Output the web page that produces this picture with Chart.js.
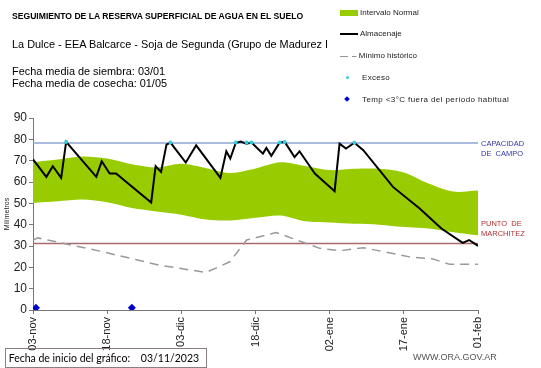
<!DOCTYPE html>
<html>
<head>
<meta charset="utf-8">
<script src="https://cdn.jsdelivr.net/npm/chart.js@4/dist/chart.umd.min.js"></script>
<style>
  body { margin: 0; background: #fff; font-family: "Liberation Sans", Arial, sans-serif; }
  #wrap { position: relative; width: 541px; height: 368px; }
  .t { position: absolute; white-space: nowrap; color: #000; }
  .lg { position: absolute; font-size: 8px; color: #222; white-space: nowrap; }
</style>
</head>
<body>
<div id="wrap">
  <canvas id="reserva"></canvas>

  <div class="t" style="left:12px;top:11px;font-size:8.6px;font-weight:bold;">SEGUIMIENTO DE LA RESERVA SUPERFICIAL DE AGUA EN EL SUELO</div>
  <div class="t" style="left:12px;top:38px;font-size:10.9px;width:317px;overflow:hidden;">La Dulce - EEA Balcarce - Soja de Segunda (Grupo de Madurez II</div>
  <div class="t" style="left:12px;top:65px;font-size:10.9px;line-height:12px;">Fecha media de siembra: 03/01<br>Fecha media de cosecha: 01/05</div>

  <!-- legend -->
  <div style="position:absolute;left:340px;top:10px;width:18px;height:6px;background:#99cc00;"></div>
  <div class="lg" style="left:360px;top:8px;">Intervalo Normal</div>
  <div style="position:absolute;left:340px;top:33px;width:18px;height:2px;background:#000;"></div>
  <div class="lg" style="left:360px;top:29px;">Almacenaje</div>
  <div style="position:absolute;left:340px;top:56px;width:8px;height:1px;background:#999;"></div>
  <div class="lg" style="left:352px;top:51px;">– Mínimo histórico</div>
  <div style="position:absolute;left:346px;top:76px;width:3px;height:3px;border-radius:2px;background:#33ccdd;"></div>
  <div class="lg" style="left:362px;top:73px;letter-spacing:0.3px;">Exceso</div>
  <div style="position:absolute;left:345px;top:97px;width:4px;height:4px;transform:rotate(45deg);background:#0000cc;"></div>
  <div class="lg" style="left:362px;top:95px;letter-spacing:0.4px;">Temp &lt;3°C fuera del período habitual</div>

  <!-- reference line labels -->
  <div class="t" style="left:481px;top:139px;font-size:7.5px;line-height:10px;color:#3333aa;">CAPACIDAD<br>DE&nbsp; CAMPO</div>
  <div class="t" style="left:481px;top:219px;font-size:7.5px;line-height:10px;color:#b03030;">PUNTO&nbsp; DE<br>MARCHITEZ</div>

  <!-- footer -->
  <div class="t" style="left:5px;top:348px;width:200px;height:18px;border:1px solid #8a7f7f;font-family:Lato,sans-serif;font-size:10.5px;line-height:18px;">&nbsp;Fecha de inicio del gráfico:&nbsp;&nbsp;&nbsp; 03/11/2023</div>
  <div class="t" style="left:413px;top:352px;font-size:9px;color:#555;">WWW.ORA.GOV.AR</div>
</div>

<script>
// days counted from 03-nov-2023
const tickDays = [0, 15, 30, 45, 60, 75, 90];
const tickLabels = ["03-nov", "18-nov", "03-dic", "18-dic", "02-ene", "17-ene", "01-feb"];

// intervalo normal (green band)
const bandDays  = [0, 5, 10, 15, 20, 25, 30, 35, 40, 45, 50, 55, 60, 65, 70, 75, 80, 85, 90];
const bandUpper = [69.3, 70.5, 72, 71, 68.3, 66.8, 68.5, 66.5, 64.2, 66.3, 69.2, 67.5, 65.6, 66.2, 66.2, 64.5, 59.3, 55.5, 56];
const bandLower = [50.2, 51, 51.8, 50.5, 47.8, 46.2, 44.7, 42.4, 42, 43.2, 44.3, 41.6, 41, 40.4, 40, 38.9, 38.2, 36.5, 35];

// almacenaje
const almDays = [0, 2.7, 4, 5.7, 6.7, 12.8, 13.9, 15.5, 16.8, 23.9, 24.8, 25.9, 27, 27.8, 30.9, 33, 37.9, 39.1, 39.9, 41, 42, 43.2, 44.2, 46.5, 47.2, 48.2, 49.9, 50.9, 52.9, 53.9, 57, 61, 62, 63.3, 65, 66.8, 72.8, 78.2, 82.6, 86.9, 88.2, 90];
const almVals = [70.6, 62.4, 67.4, 61.9, 78.8, 62.4, 69.7, 64, 64, 50.4, 67.4, 64.7, 77.5, 78.5, 69.1, 77.2, 61.9, 74.4, 71, 78.3, 79, 78, 78.5, 73.3, 76, 72.3, 78.5, 78.8, 71.7, 74.4, 64, 55.7, 78, 75.7, 78.4, 74.9, 57.7, 47.6, 38.2, 31.5, 32.8, 30.1];

// minimo historico
const minDays = [0, 1, 13.5, 25.6, 35, 39.8, 43.2, 49.2, 58, 62, 66.8, 76.2, 80.9, 84.3, 90];
const minVals = [32.8, 33.8, 27.6, 21, 17.6, 22.6, 32.8, 36.3, 28.9, 27.8, 29.2, 24.9, 23.9, 21.4, 21.4];

// exceso points
const excDays = [6.7, 27.8, 41, 43.2, 44.2, 49.9, 50.9, 65];
const excVals = [78.8, 78.5, 78.5, 78.5, 78.5, 78.5, 78.8, 78.4];

// temp < 3C
const tempDays = [0.6, 20];
const tempVals = [1, 1];

const capacidad = 78.3;
const marchitez = 31.2;

const pts = (xs, ys) => xs.map((x, i) => ({ x: x, y: ys[i] }));

new Chart("reserva", {
    type: "line",
    data: {
        datasets: [
            {
                label: "lower",
                data: pts(bandDays, bandLower),
                borderWidth: 0,
                pointRadius: 0,
                tension: 0.3,
                fill: false,
                order: 10
            },
            {
                label: "Intervalo Normal",
                data: pts(bandDays, bandUpper),
                borderWidth: 0,
                pointRadius: 0,
                tension: 0.3,
                backgroundColor: "#99cc00",
                fill: "-1",
                order: 9
            },
            {
                label: "Capacidad",
                data: [{ x: 0, y: capacidad }, { x: 90, y: capacidad }],
                borderColor: "#8ea5d6",
                borderWidth: 1.5,
                pointRadius: 0,
                order: 5
            },
            {
                label: "Marchitez",
                data: [{ x: 0, y: marchitez }, { x: 90, y: marchitez }],
                borderColor: "#a86a6a",
                borderWidth: 1.5,
                pointRadius: 0,
                order: 5
            },
            {
                label: "Mínimo histórico",
                data: pts(minDays, minVals),
                borderColor: "#999999",
                borderWidth: 1.5,
                borderDash: [9, 6],
                pointRadius: 0,
                order: 4
            },
            {
                label: "Almacenaje",
                data: pts(almDays, almVals),
                borderColor: "#000",
                borderWidth: 2,
                pointRadius: 0,
                order: 2
            },
            {
                label: "Exceso",
                data: pts(excDays, excVals),
                showLine: false,
                pointRadius: 2,
                pointBackgroundColor: "#33ccdd",
                pointBorderWidth: 0,
                order: 1
            },
            {
                label: "Temp",
                data: pts(tempDays, tempVals),
                showLine: false,
                pointStyle: "rectRot",
                pointRadius: 4,
                pointBackgroundColor: "#0000cc",
                pointBorderWidth: 0,
                order: 0
            }
        ]
    },
    options: {
        responsive: true,
        maintainAspectRatio: false,
        animation: false,
        layout: { padding: { left: 0, right: 63, top: 118, bottom: 0 } },
        plugins: {
            legend: { display: false },
            tooltip: { enabled: false }
        },
        scales: {
            x: {
                type: "linear",
                min: 0,
                max: 90,
                afterFit: (s) => { s.height = 58; },
                afterBuildTicks: (s) => { s.ticks = tickDays.map(v => ({ value: v })); },
                ticks: {
                    autoSkip: false,
                    minRotation: 90,
                    maxRotation: 90,
                    color: "#222",
                    font: { family: "Liberation Sans", size: 11 },
                    callback: (v) => tickLabels[tickDays.indexOf(v)]
                },
                grid: { drawOnChartArea: false, tickLength: 4, color: "#777" },
                border: { color: "#777" }
            },
            y: {
                min: 0,
                max: 90,
                afterFit: (s) => { s.width = 33; },
                ticks: {
                    stepSize: 10,
                    color: "#222",
                    padding: 2,
                    font: { family: "Liberation Sans", size: 12 }
                },
                grid: { drawOnChartArea: false, tickLength: 4, color: "#777" },
                border: { color: "#777" },
                title: {
                    display: true,
                    text: "Milímetros",
                    color: "#222",
                    padding: { top: 3, bottom: 0 },
                    font: { family: "Liberation Sans", size: 7 }
                }
            }
        }
    }
});
</script>
</body>
</html>
